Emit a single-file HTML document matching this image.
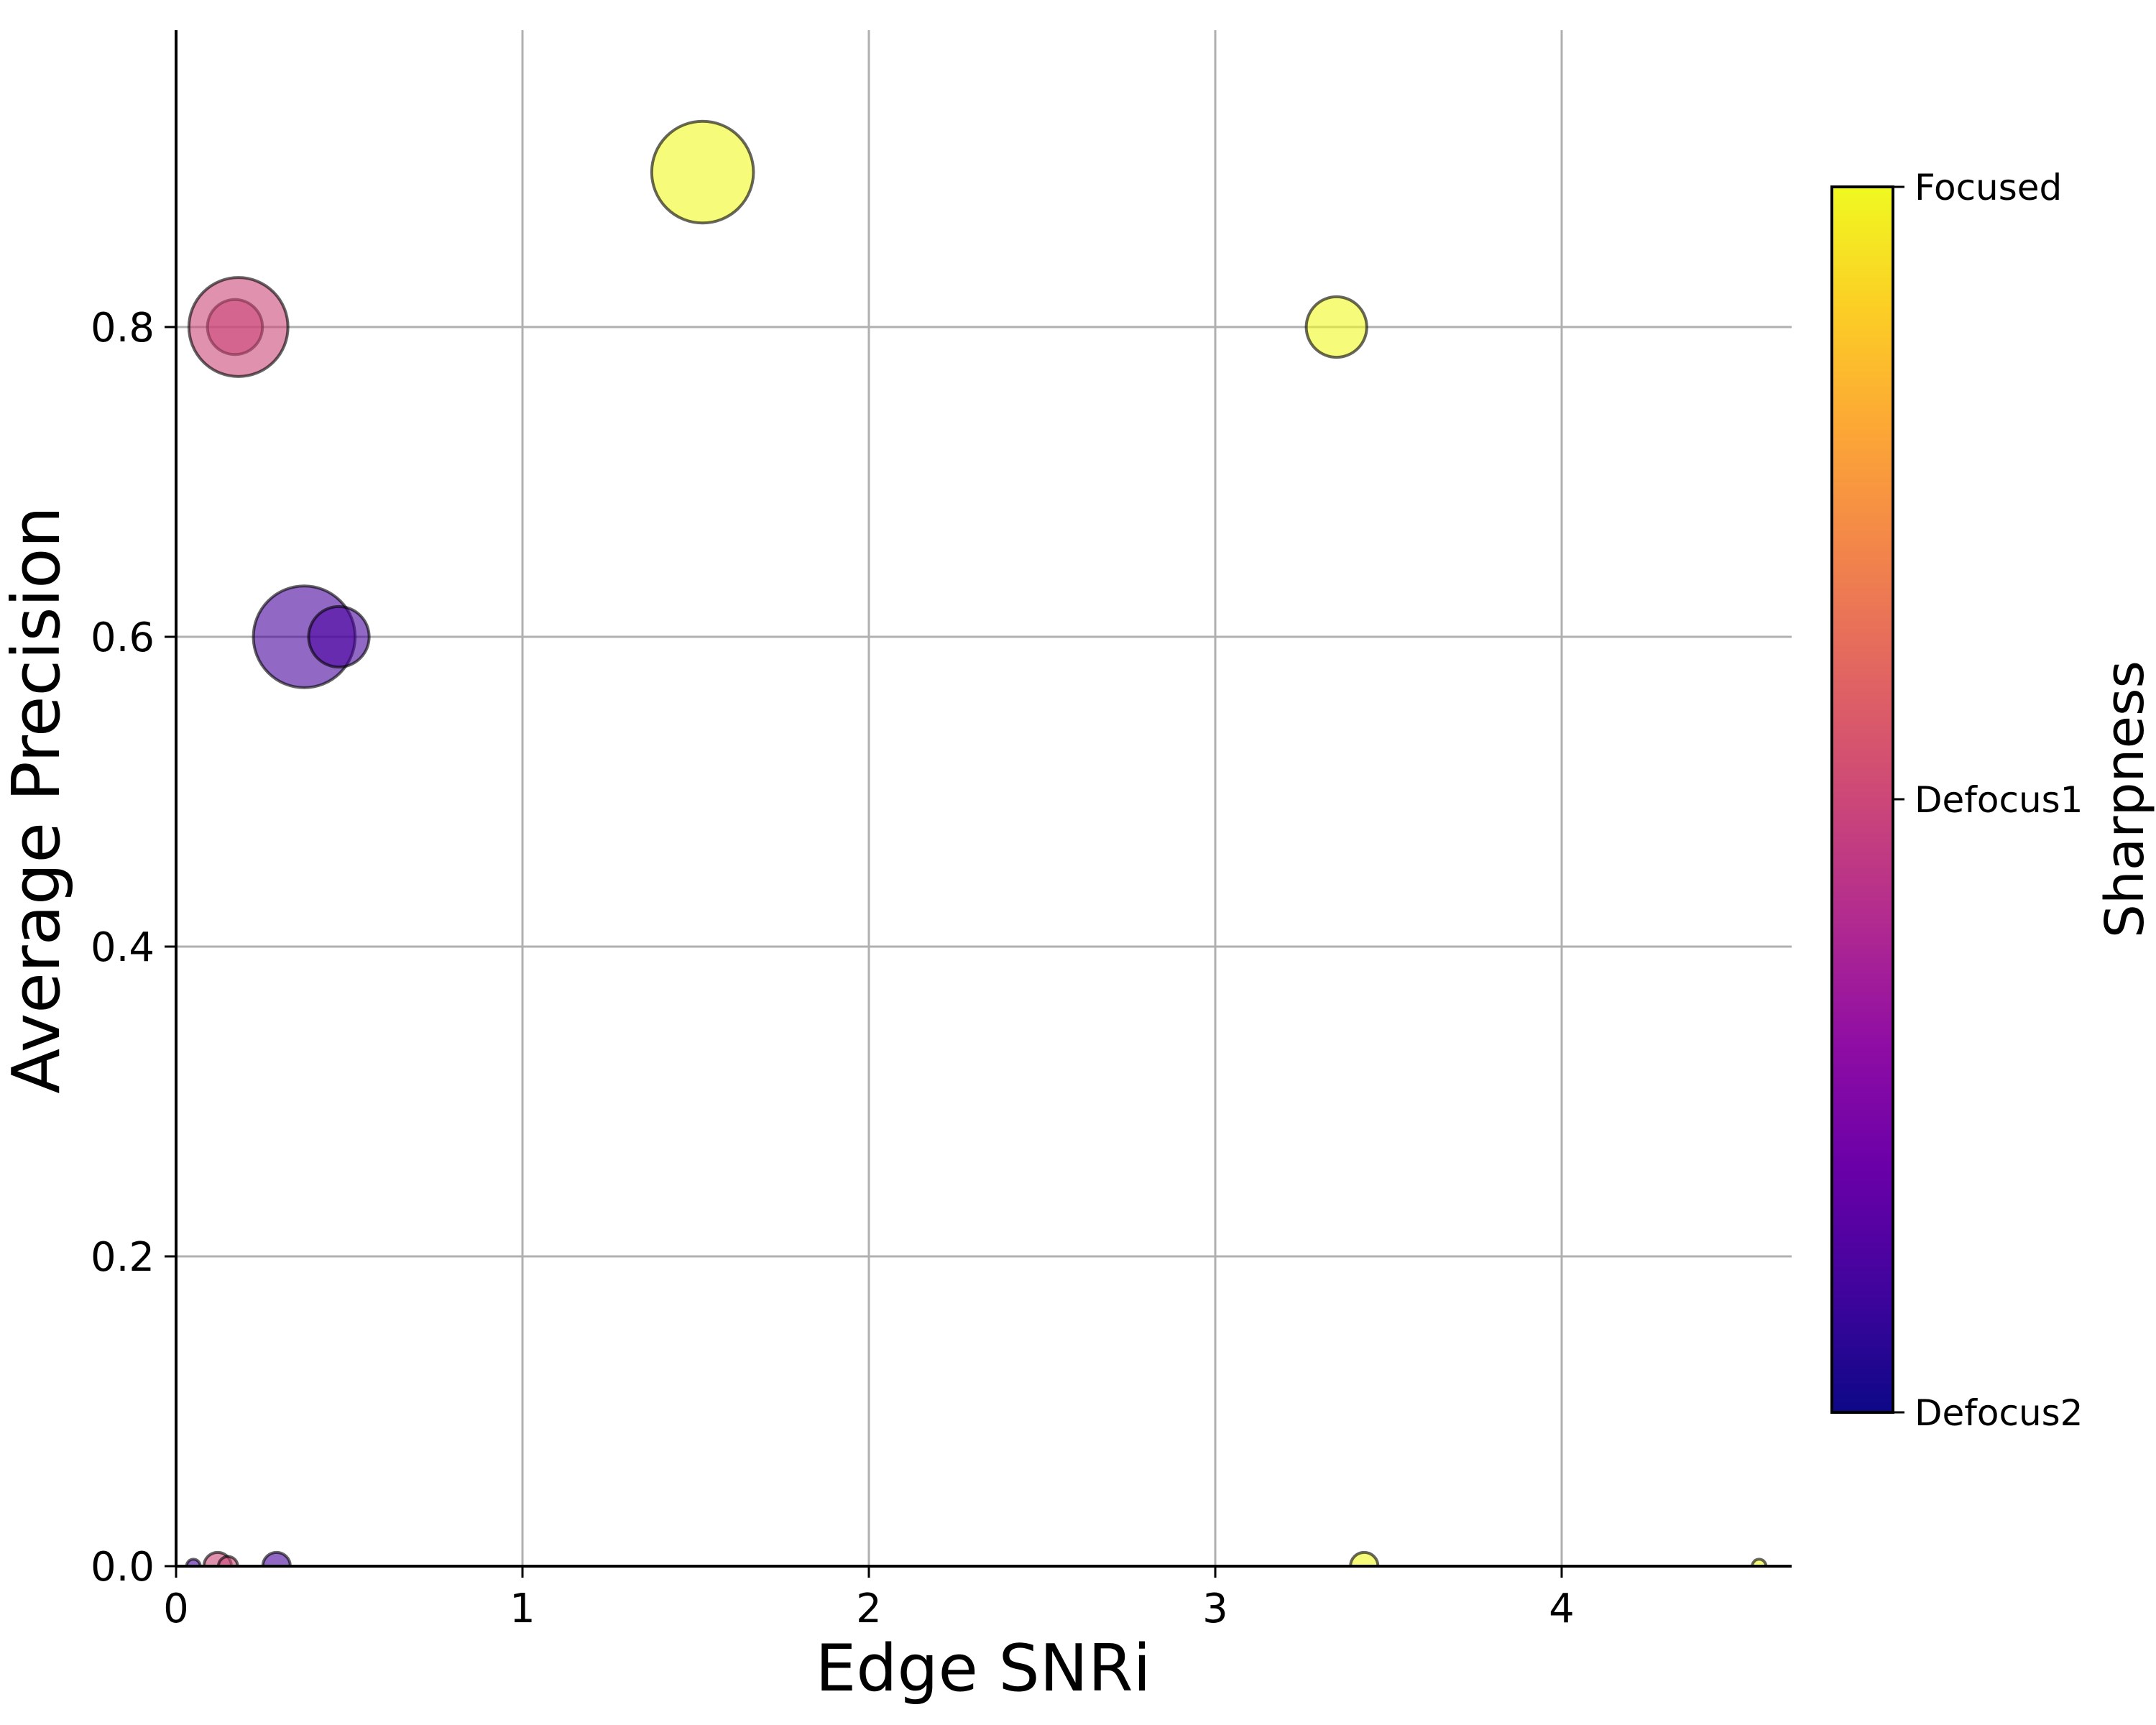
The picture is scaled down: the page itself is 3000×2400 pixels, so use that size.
<!DOCTYPE html>
<html><head><meta charset="utf-8">
<style>
html,body{margin:0;padding:0;background:#fff;}
svg{display:block;font-family:"DejaVu Sans","Liberation Sans",sans-serif;}
</style></head>
<body>
<svg id="chart" width="3000" height="2400" viewBox="0 0 3000 2400" xmlns="http://www.w3.org/2000/svg">
<defs>
<linearGradient id="plasma" x1="0" y1="1" x2="0" y2="0">
<stop offset="0" stop-color="#0d0887"/><stop offset="0.1" stop-color="#41049d"/>
<stop offset="0.2" stop-color="#6a00a8"/><stop offset="0.3" stop-color="#8f0da4"/>
<stop offset="0.4" stop-color="#b12a90"/><stop offset="0.5" stop-color="#cc4778"/>
<stop offset="0.6" stop-color="#e16462"/><stop offset="0.7" stop-color="#f2844b"/>
<stop offset="0.8" stop-color="#fca636"/><stop offset="0.9" stop-color="#fcce25"/>
<stop offset="1" stop-color="#f0f921"/>
</linearGradient>
<clipPath id="plotclip"><rect x="245" y="42" width="2248" height="2137"/></clipPath>
</defs>
<g id="grid"></g>
<g id="points" clip-path="url(#plotclip)"></g>
<g id="axes"></g>
<text x="1368" y="2352" font-size="90" text-anchor="middle">Edge SNRi</text>
<text transform="translate(82,1113) rotate(-90)" font-size="92" text-anchor="middle">Average Precision</text>
<g>
<rect x="2549" y="260" width="85" height="1705" fill="url(#plasma)" stroke="#000" stroke-width="4"/>
<line x1="2634" y1="260" x2="2650" y2="260" stroke="#000" stroke-width="3"/>
<line x1="2634" y1="1112" x2="2650" y2="1112" stroke="#000" stroke-width="3"/>
<line x1="2634" y1="1965" x2="2650" y2="1965" stroke="#000" stroke-width="3"/>
<text x="2664" y="278" font-size="50">Focused</text>
<text x="2664" y="1130" font-size="50">Defocus1</text>
<text x="2664" y="1983" font-size="50">Defocus2</text>
<text transform="translate(2982,1112) rotate(-90)" font-size="74" text-anchor="middle">Sharpness</text>
</g>
</svg>
<script>
const xValues = [1.52, 0.17, 0.18, 3.35, 0.37, 0.47, 0.05, 0.12, 0.15, 0.29, 3.43, 4.57];
const yValues = [0.9, 0.8, 0.8, 0.8, 0.6, 0.6, 0, 0, 0, 0, 0, 0];
const sizes = [37, 20, 36, 22, 37, 22, 5, 10, 7, 10, 10, 5];
const sharpness = [1, 0.5, 0.5, 1, 0.12, 0.12, 0.12, 0.5, 0.5, 0.12, 1, 1];
const xTicks = [0, 1, 2, 3, 4];
const yTicks = [0, 0.2, 0.4, 0.6, 0.8];
const yTickLabels = ["0.0", "0.2", "0.4", "0.6", "0.8"];

const L = 245, R = 2493, T = 42, B = 2179;
const XMAX = (R - L) / 482, YMAX = (B - T) / 2155;
const sx = v => L + (v / XMAX) * (R - L);
const sy = v => B - (v / YMAX) * (B - T);
const ns = "http://www.w3.org/2000/svg";
const stops = [[13,8,135],[65,4,157],[106,0,168],[143,13,164],[177,42,144],[204,71,120],[225,100,98],[242,132,75],[252,166,54],[252,206,37],[240,249,33]];
function plasma(t){const f=Math.max(0,Math.min(1,t))*10,i=Math.min(9,Math.floor(f)),u=f-i;const c=stops[i].map((a,k)=>Math.round(a+(stops[i+1][k]-a)*u));return `rgb(${c[0]},${c[1]},${c[2]})`;}
function mk(tag, attrs, parent){const e=document.createElementNS(ns,tag);for(const k in attrs)e.setAttribute(k,attrs[k]);parent.appendChild(e);return e;}

const grid = document.getElementById('grid');
const axes = document.getElementById('axes');
const pts = document.getElementById('points');

xTicks.forEach((t) => {
  const x = sx(t);
  if (t > 0) {
    const g = mk('line', {x1:x, y1:T, x2:x, y2:B, stroke:'#b0b0b0', 'stroke-width':3}, grid);
    
    
  }
  mk('line', {x1:x, y1:B, x2:x, y2:B+16, stroke:'#000', 'stroke-width':3}, axes);
  const tx = mk('text', {x:x, y:B+78, 'font-size':56, 'text-anchor':'middle'}, axes);
  tx.textContent = String(t);
  
  
});
yTicks.forEach((t, i) => {
  const y = sy(t);
  if (t > 0) {
    const g = mk('line', {x1:L, y1:y, x2:R, y2:y, stroke:'#b0b0b0', 'stroke-width':3}, grid);
    
    
  }
  mk('line', {x1:L-16, y1:y, x2:L, y2:y, stroke:'#000', 'stroke-width':3}, axes);
  const tx = mk('text', {x:L-30, y:y+20, 'font-size':56, 'text-anchor':'end'}, axes);
  tx.textContent = yTickLabels[i];
  
  
});
const sp1 = mk('line', {x1:L, y1:T, x2:L, y2:B, stroke:'#000', 'stroke-width':4}, axes);


const sp2 = mk('line', {x1:L, y1:B, x2:R, y2:B, stroke:'#000', 'stroke-width':4}, axes);



xValues.forEach((xv, i) => {
  const c = mk('circle', {cx:sx(xv), cy:sy(yValues[i]), r:sizes[i]*1.913, fill:plasma(sharpness[i]), 'fill-opacity':0.6, 'stroke':'#000', 'stroke-opacity':0.6, 'stroke-width':4}, pts);
  
  
});
</script>
</body></html>
